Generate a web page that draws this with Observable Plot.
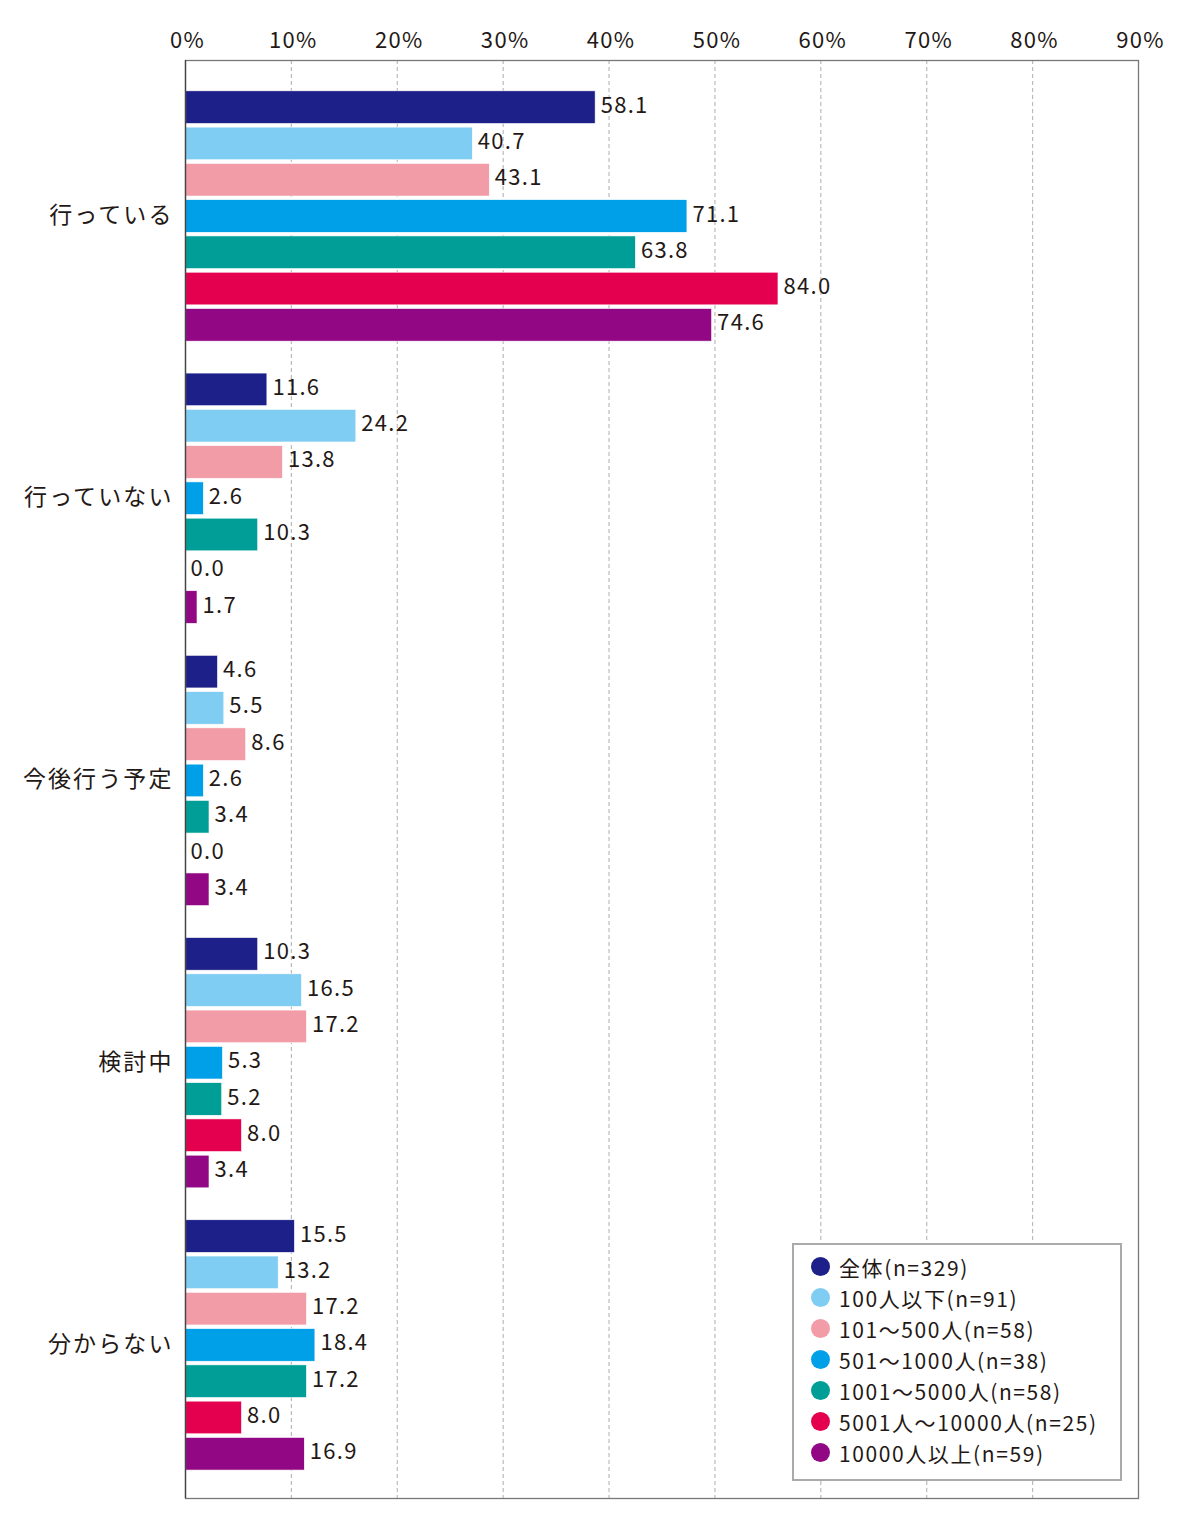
<!DOCTYPE html>
<html><head><meta charset="utf-8">
<script src="https://cdn.jsdelivr.net/npm/d3@7"></script>
<script src="https://cdn.jsdelivr.net/npm/@observablehq/plot@0.6"></script>
<style>
html,body{margin:0;padding:0;background:#fff;}
#wrap{position:relative;width:1200px;height:1529px;font-family:"Noto Sans CJK JP","Noto Sans",sans-serif;}
#legend{position:absolute;left:792px;top:1243px;width:330px;height:238px;border:2px solid #aaa;background:#fff;box-sizing:border-box;padding:6px 0 0 17px;}
.li{display:flex;align-items:center;height:31px;font-size:21px;letter-spacing:1.6px;color:#231815;white-space:nowrap;}
.sw{width:19px;height:19px;border-radius:50%;margin-right:9px;flex:none;}
</style></head>
<body><div id="wrap"><div id="chart"></div><div id="legend"></div></div>
<script>
const categories = ["行っている", "行っていない", "今後行う予定", "検討中", "分からない"];
const seriesNames = ["全体(n=329)", "100人以下(n=91)", "101〜500人(n=58)", "501〜1000人(n=38)", "1001〜5000人(n=58)", "5001人〜10000人(n=25)", "10000人以上(n=59)"];
const seriesColors = ["#1d2088", "#80cdf3", "#f19ca7", "#00a0e8", "#009e96", "#e5004f", "#920783"];
const values = [
  [58.1, 40.7, 43.1, 71.1, 63.8, 84.0, 74.6],
  [11.6, 24.2, 13.8, 2.6, 10.3, 0.0, 1.7],
  [4.6, 5.5, 8.6, 2.6, 3.4, 0.0, 3.4],
  [10.3, 16.5, 17.2, 5.3, 5.2, 8.0, 3.4],
  [15.5, 13.2, 17.2, 18.4, 17.2, 8.0, 16.9]
];
const tickLabels = ["0%", "10%", "20%", "30%", "40%", "50%", "60%", "70%", "80%", "90%"];

// layout in "bar step" units
const G = 7.78;
const rows = [];
categories.forEach((c, i) => seriesNames.forEach((s, j) => {
  rows.push({cat: c, series: s, value: values[i][j], pos: i * G + j});
}));
const tickVals = tickLabels.map((t, k) => k * 15);
const catCenters = categories.map((c, i) => ({cat: c, y: i * G + 3.5}));

const plot = Plot.plot({
  width: 1200,
  height: 1529,
  marginTop: 60,
  marginBottom: 31,
  marginLeft: 185,
  marginRight: 62,
  style: {fontFamily: '"Noto Sans CJK JP","Noto Sans",sans-serif', fontSize: "22px", color: "#231815", background: "#fff"},
  x: {domain: [0, 135], axis: null},
  y: {domain: [-0.80, 38.84], reverse: true, axis: null},
  color: {domain: seriesNames, range: seriesColors},
  marks: [
    Plot.ruleX(tickVals.slice(1, -1), {stroke: "#bbb", strokeWidth: 1.2, strokeDasharray: "4,3"}),
    Plot.rect(rows, {x1: () => 0, x2: "value", y1: d => d.pos + 0.05, y2: d => d.pos + 0.95, fill: "series", stroke: "#fff", strokeWidth: 0.6}),
    Plot.text(rows, {x: "value", y: d => d.pos + 0.5, text: d => d.value.toFixed(1), textAnchor: "start", dx: 5, dy: -2, fill: "#231815", fontSize: 22}),
    Plot.text(catCenters, {x: () => 0, y: "y", text: "cat", textAnchor: "end", dx: -12, dy: -1, fill: "#231815", fontSize: 23}),
    Plot.text(tickLabels, {x: (d, k) => tickVals[k], frameAnchor: "top", dy: -13, dx: 2, text: d => d, fill: "#231815", fontSize: 22, lineAnchor: "bottom"}),
    Plot.frame({stroke: "#777", strokeWidth: 1.3}),
    Plot.ruleX([0], {stroke: "#444", strokeWidth: 1.3})
  ]
});
document.getElementById("chart").appendChild(plot);

// per-mark letter spacing (values, categories, ticks)
const textGroups = d3.select(plot).selectAll('g[aria-label="text"]').nodes();
const spacings = ["1.3px", "2.1px", "1.3px"];
textGroups.forEach((g, k) => { if (spacings[k]) g.style.letterSpacing = spacings[k]; });

const lg = document.getElementById("legend");
seriesNames.forEach((s, j) => {
  const r = document.createElement("div");
  r.className = "li";
  r.innerHTML = `<span class="sw" style="background:${seriesColors[j]}"></span><span>${s}</span>`;
  lg.appendChild(r);
});
</script>
</body></html>
